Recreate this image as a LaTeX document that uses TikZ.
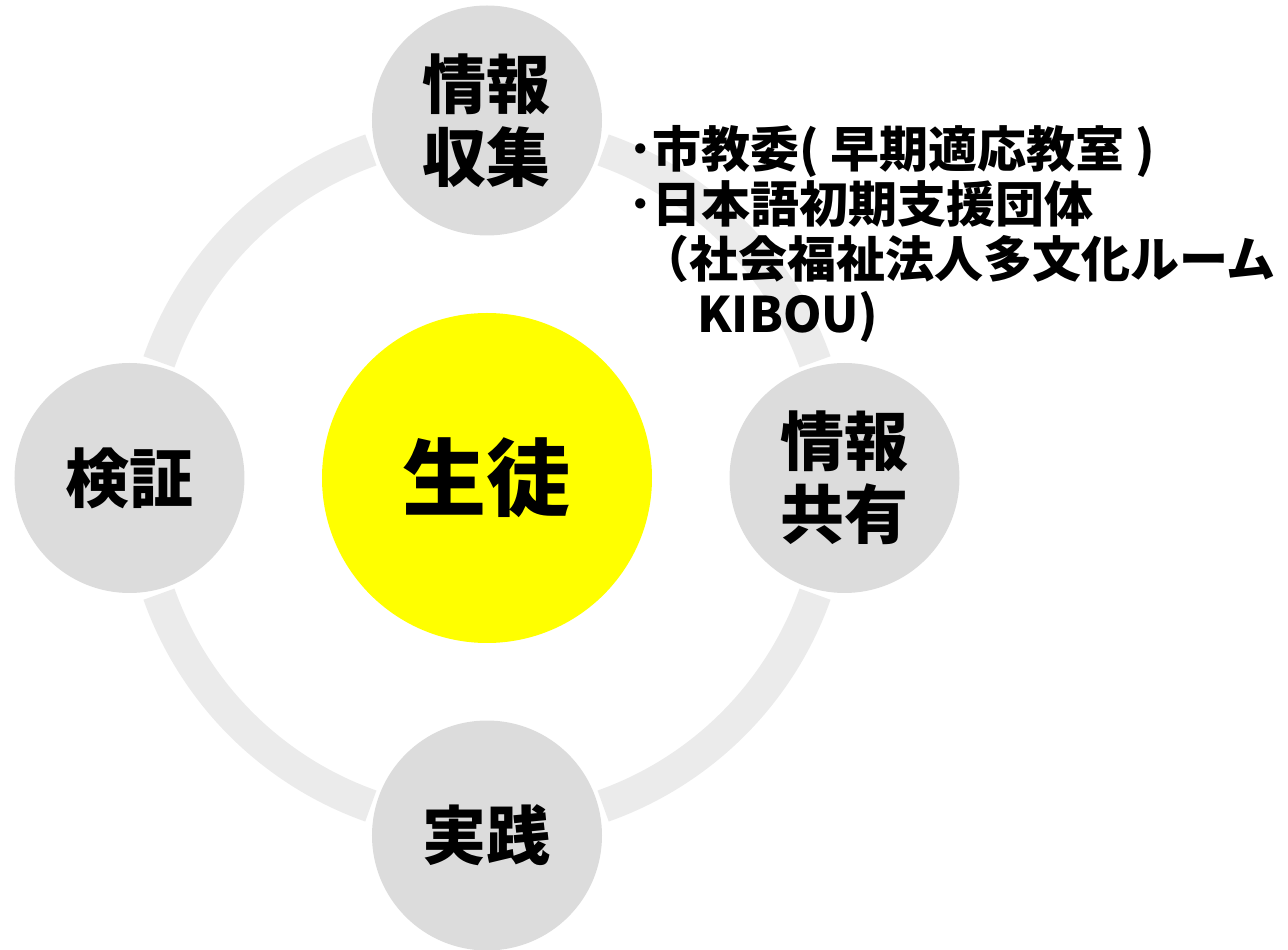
\documentclass[tikz,border=0pt]{standalone}
\usepackage{fontspec}
\setmainfont{Noto Sans CJK JP}
\usetikzlibrary{positioning}
\definecolor{ringgray}{HTML}{EBEBEB}
\definecolor{nodegray}{HTML}{DCDCDC}
\definecolor{hubyellow}{HTML}{FFFF00}
\tikzset{
  phase/.style={circle,fill=nodegray,minimum size=230pt,inner sep=0pt,align=center,
    font=\fontsize{64}{73}\selectfont\bfseries},
  hub/.style={circle,fill=hubyellow,minimum size=330pt,inner sep=0pt,
    font=\fontsize{84}{90}\selectfont\bfseries},
  notes/.style={anchor=north west,inner sep=0pt,align=left,
    font=\fontsize{49}{55}\selectfont\bfseries}
}
\begin{document}
\begin{tikzpicture}[x=1pt,y=1pt,node distance=357.5pt,on grid]
  \useasboundingbox (-487,-472) rectangle (801,478);
  % ring behind the four phases
  \foreach \a in {0,90,180,270}
    \draw[ringgray,line width=33pt] (\a+19.5:348) arc[start angle=\a+19.5,end angle=\a+70.5,radius=348];
  \node[hub] (st) at (0,0) {生徒};
  \node[phase,above=of st] (col) {情報\\収集};
  \node[phase,right=of st] (shr) {情報\\共有};
  \node[phase,below=of st] (act) {実践};
  \node[phase,left=of st] (chk) {検証};
  \node[notes] (src) at (141,353) {･市教委( 早期適応教室 )\\
    ･日本語初期支援団体\\
    \hspace*{12pt}（社会福祉法人多文化ルーム\\
    \hspace*{69pt}KIBOU)};
\end{tikzpicture}
\end{document}
